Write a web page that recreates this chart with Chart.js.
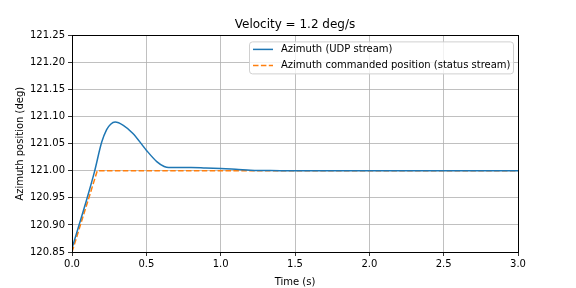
<!DOCTYPE html>
<html>
<head>
<meta charset="utf-8">
<script src="https://cdn.jsdelivr.net/npm/chart.js@4"></script>
<style>
  html, body { margin: 0; padding: 0; background: #fff; }
  #wrap { width: 576px; height: 288px; }
</style>
</head>
<body>
<div id="wrap"><canvas id="chart" width="576" height="288"></canvas></div>
<script>
// Dados
const udpTimes = [0, 0.05, 0.1, 0.15, 0.2, 0.233, 0.26, 0.29, 0.345, 0.41, 0.5, 0.57, 0.62, 0.65, 0.7, 0.8, 0.9, 1.0, 1.1, 1.2, 1.3, 1.4, 1.5, 2.0, 2.5, 3.0];
const udpValues = [120.857, 120.902, 120.948, 120.997, 121.053, 121.076, 121.086, 121.090, 121.084, 121.069, 121.038, 121.017, 121.008, 121.006, 121.006, 121.006, 121.005, 121.004, 121.003, 121.001, 121.0005, 121.0, 121.0, 121.0, 121.0, 121.0];
const cmdTimes = [0, 0.17, 3.0];
const cmdValues = [120.85, 121.0, 121.0];
const seriesLabels = ['Azimuth (UDP stream)', 'Azimuth commanded position (status stream)'];
const xTicks = [0, 0.5, 1.0, 1.5, 2.0, 2.5, 3.0];
const yTicks = [120.85, 120.90, 120.95, 121.00, 121.05, 121.10, 121.15, 121.20, 121.25];

const BLUE = '#1f77b4';
const ORANGE = '#ff7f0e';
const FONT = 'DejaVu Sans';

function toPoints(xs, ys) {
    return xs.map((x, i) => ({ x: x, y: ys[i] }));
}

// Moldura e legenda no estilo matplotlib
const framePlugin = {
    id: 'frame',
    afterLayout(chart) {
        // centralizar o título sobre a área do gráfico
        const t = chart.titleBlock;
        if (t) {
            t.left = chart.chartArea.left;
            t.right = chart.chartArea.right;
            t.width = t.right - t.left;
        }
    },
    afterDraw(chart) {
        const { ctx, chartArea: a } = chart;
        ctx.save();
        ctx.strokeStyle = '#000';
        ctx.lineWidth = 1;
        ctx.strokeRect(Math.round(a.left) + 0.5, Math.round(a.top) + 0.5, Math.round(a.right - a.left), Math.round(a.bottom - a.top));

        // legenda
        const bx = a.right - 269, by = a.top + 6, bw = 264, bh = 32;
        ctx.fillStyle = 'rgba(255,255,255,0.8)';
        ctx.strokeStyle = '#d0d0d0';
        ctx.beginPath();
        ctx.roundRect(bx + 0.5, by + 0.5, bw, bh, 3);
        ctx.fill();
        ctx.stroke();

        ctx.font = '10px "' + FONT + '"';
        ctx.textBaseline = 'middle';
        ctx.fillStyle = '#000';
        ctx.lineWidth = 1.5;
        const rows = [
            { label: seriesLabels[0], color: BLUE, dash: [] },
            { label: seriesLabels[1], color: ORANGE, dash: [5.5, 2.4] }
        ];
        rows.forEach((r, i) => {
            const yy = by + 8 + i * 16;
            ctx.strokeStyle = r.color;
            ctx.setLineDash(r.dash);
            ctx.beginPath();
            ctx.moveTo(bx + 4, yy);
            ctx.lineTo(bx + 24, yy);
            ctx.stroke();
            ctx.setLineDash([]);
            ctx.fillText(r.label, bx + 32, yy);
        });
        ctx.restore();
    }
};

new Chart(document.getElementById('chart'), {
    type: 'line',
    data: {
        datasets: [{
            label: seriesLabels[0],
            data: toPoints(udpTimes, udpValues),
            borderColor: BLUE,
            borderWidth: 1.5,
            pointRadius: 0,
            cubicInterpolationMode: 'monotone',
            fill: false
        }, {
            label: seriesLabels[1],
            data: toPoints(cmdTimes, cmdValues),
            borderColor: ORANGE,
            borderWidth: 1.5,
            borderDash: [5.5, 2.4],
            pointRadius: 0,
            tension: 0,
            fill: false
        }]
    },
    options: {
        responsive: false,
        animation: false,
        layout: { padding: { left: 0, right: 58, top: 0, bottom: 0 } },
        plugins: {
            legend: { display: false },
            tooltip: { enabled: false },
            title: {
                display: true,
                text: 'Velocity = 1.2 deg/s',
                color: '#000',
                font: { family: FONT, size: 12, weight: 'normal', lineHeight: 1.2 },
                padding: { top: 18, bottom: 3 }
            }
        },
        scales: {
            x: {
                type: 'linear',
                min: 0,
                max: 3,
                afterFit(scale) { scale.height = 36; },
                afterBuildTicks(scale) { scale.ticks = xTicks.map(v => ({ value: v })); },
                grid: { color: '#b0b0b0', lineWidth: 0.8, tickColor: '#000', tickLength: 4, tickWidth: 0.8 },
                border: { color: '#000', width: 1 },
                ticks: {
                    color: '#000',
                    padding: 2,
                    maxRotation: 0,
                    font: { family: FONT, size: 10 },
                    callback: v => v.toFixed(1)
                },
                title: {
                    display: true,
                    text: 'Time (s)',
                    color: '#000',
                    font: { family: FONT, size: 10 },
                    padding: { top: 5, bottom: 0 }
                }
            },
            y: {
                min: 120.85,
                max: 121.25,
                afterFit(scale) { scale.width = 72; },
                afterBuildTicks(scale) { scale.ticks = yTicks.map(v => ({ value: v })); },
                grid: { color: '#b0b0b0', lineWidth: 0.8, tickColor: '#000', tickLength: 4, tickWidth: 0.8 },
                border: { color: '#000', width: 1 },
                ticks: {
                    color: '#000',
                    padding: 3,
                    font: { family: FONT, size: 10 },
                    callback: v => v.toFixed(2)
                },
                title: {
                    display: true,
                    text: 'Azimuth position (deg)',
                    color: '#000',
                    font: { family: FONT, size: 10 },
                    padding: { top: 14, bottom: 0 }
                }
            }
        }
    },
    plugins: [framePlugin]
});
</script>
</body>
</html>
